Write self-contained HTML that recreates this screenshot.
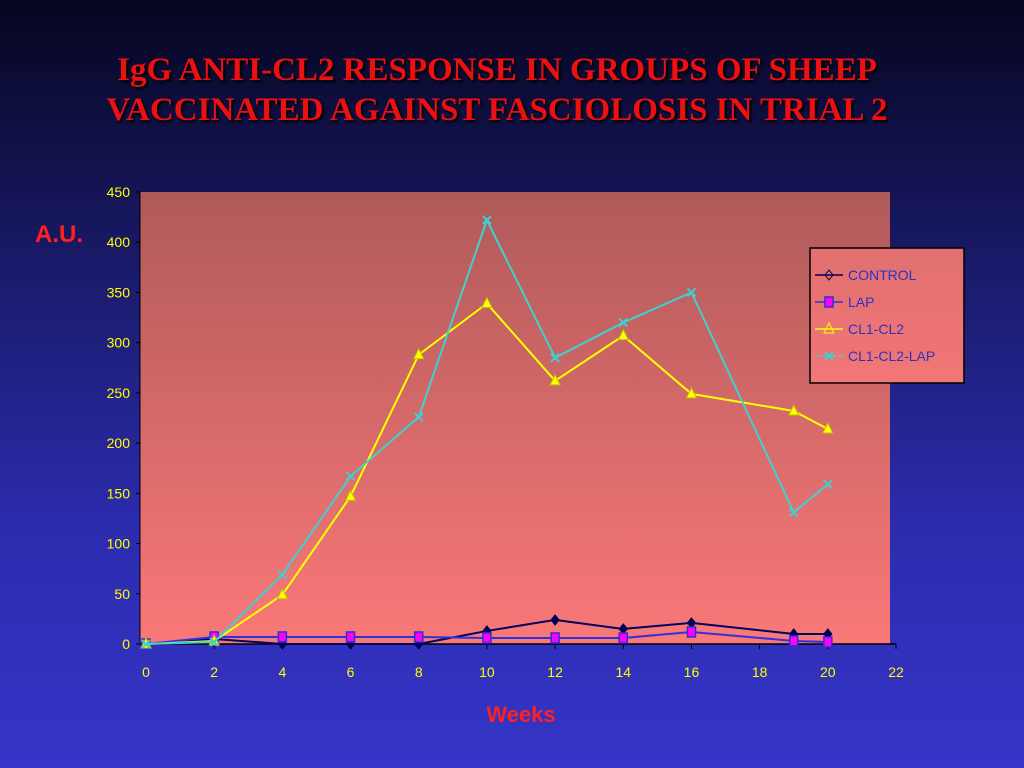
<!DOCTYPE html>
<html><head><meta charset="utf-8"><style>
body{margin:0;width:1024px;height:768px;overflow:hidden;background:linear-gradient(#060620 0%,#1a1a6a 35%,#2c2cb0 70%,#3535c8 100%);font-family:"Liberation Sans",sans-serif}
#title{position:absolute;left:0;top:50px;width:994px;text-align:center;color:#ee1010;font:bold 33px/40px "Liberation Serif",serif;text-shadow:2px 2px 2px #000}
</style></head><body>
<div id="title">IgG ANTI-CL2 RESPONSE IN GROUPS OF SHEEP<br>VACCINATED AGAINST FASCIOLOSIS IN TRIAL 2</div>
<svg id="c" width="1024" height="768" style="position:absolute;left:0;top:0">
<defs><linearGradient id="pg" x1="0" y1="0" x2="0" y2="1"><stop offset="0" stop-color="#b05a5a"/><stop offset="1" stop-color="#fa7878"/></linearGradient>
<linearGradient id="lg" x1="0" y1="0" x2="0" y2="1"><stop offset="0" stop-color="#e27070"/><stop offset="1" stop-color="#f27676"/></linearGradient></defs>
</svg>
<script>
const weeks=[0,2,4,6,8,10,12,14,16,19,20];
const control=[0,5,0,0,0,13,24,15,21,10,10];
const lap=[0,7,7,7,7,6,6,6,12,3,2];
const cl1cl2=[0,3,49,147,288,339,262,307,249,232,214];
const cl1cl2lap=[0,2,69,167,226,422,285,320,350,131,159];
const xTicks=[0,2,4,6,8,10,12,14,16,18,20,22];
const yTicks=[0,50,100,150,200,250,300,350,400,450];
const NS="http://www.w3.org/2000/svg",svg=document.getElementById('c');
const X=v=>146+v*(896-146)/22, Y=v=>644-v*(644-192)/450;
function el(t,a,p){const e=document.createElementNS(NS,t);for(const k in a)e.setAttribute(k,a[k]);(p||svg).appendChild(e);return e;}
let r=el('rect',{x:140,y:192,width:750,height:452,fill:'url(#pg)'});


let ax=el('line',{x1:140,y1:192,x2:140,y2:644,stroke:'#000','stroke-width':1});


let bx=el('line',{x1:140,y1:644,x2:896,y2:644,stroke:'#000','stroke-width':1.5});


yTicks.forEach(v=>{el('line',{x1:136,x2:140,y1:Y(v),y2:Y(v),stroke:'#000'});
 const t=el('text',{x:130,y:Y(v)+5,'text-anchor':'end',fill:'#ffff00','font-size':14});t.textContent=v;
 
 });
xTicks.forEach(v=>{el('line',{x1:X(v),x2:X(v),y1:644,y2:649,stroke:'#000'});
 const t=el('text',{x:X(v),y:677,'text-anchor':'middle',fill:'#ffff00','font-size':14});t.textContent=v;
 
 });
let yt=el('text',{x:35,y:242,fill:'#ff2020','font-size':24,'font-weight':'bold'});yt.textContent='A.U.';


let xt=el('text',{x:521,y:722,'text-anchor':'middle',fill:'#ff2020','font-size':22,'font-weight':'bold'});xt.textContent='Weeks';


function marker(type,x,y,g,col,hollow){
 if(type==='d')el('polygon',{points:`${x},${y-5} ${x+4},${y} ${x},${y+5} ${x-4},${y}`,fill:hollow?'none':'#000060',stroke:'#000040'},g);
 else if(type==='s')el('rect',{x:x-4,y:y-5,width:8,height:10,fill:'#ff00ff',stroke:'#3030d0','stroke-width':1.5},g);
 else if(type==='t')el('polygon',{points:`${x},${y-6} ${x+5},${y+4} ${x-5},${y+4}`,fill:hollow?'none':'#ffff00',stroke:hollow?'#ffff00':'#c0c000'},g);
 else {el('path',{d:`M${x-4},${y-4}L${x+4},${y+4}M${x+4},${y-4}L${x-4},${y+4}`,stroke:col,'stroke-width':2},g);}
}
const series=[['control',control,'#000060','d'],['lap',lap,'#3030e0','s'],['cl1-cl2',cl1cl2,'#ffff00','t'],['cl1-cl2-lap',cl1cl2lap,'#40d0d0','x']];
series.forEach(([n,d,col,m])=>{const g=el('g',{});
 
 
 el('polyline',{points:d.map((v,i)=>X(weeks[i])+','+Y(v)).join(' '),fill:'none',stroke:col,'stroke-width':2},g);
 d.forEach((v,i)=>marker(m,X(weeks[i]),Y(v),g,col,false));});
const lg=el('g',{});


el('rect',{x:810,y:248,width:154,height:135,fill:'url(#lg)',stroke:'#000','stroke-width':1.5},lg);
const names=['CONTROL','LAP','CL1-CL2','CL1-CL2-LAP'];
series.forEach(([n,d,col,m],i)=>{const y=275+i*27;
 el('line',{x1:815,x2:843,y1:y,y2:y,stroke:col,'stroke-width':1.5,'stroke-dasharray':m==='x'?'5,3':'none'},lg);
 marker(m,829,y,lg,col,true);
 const t=el('text',{x:848,y:y+5,fill:'#3030c0','font-size':14},lg);t.textContent=names[i];
 
 });
</script>
</body></html>
